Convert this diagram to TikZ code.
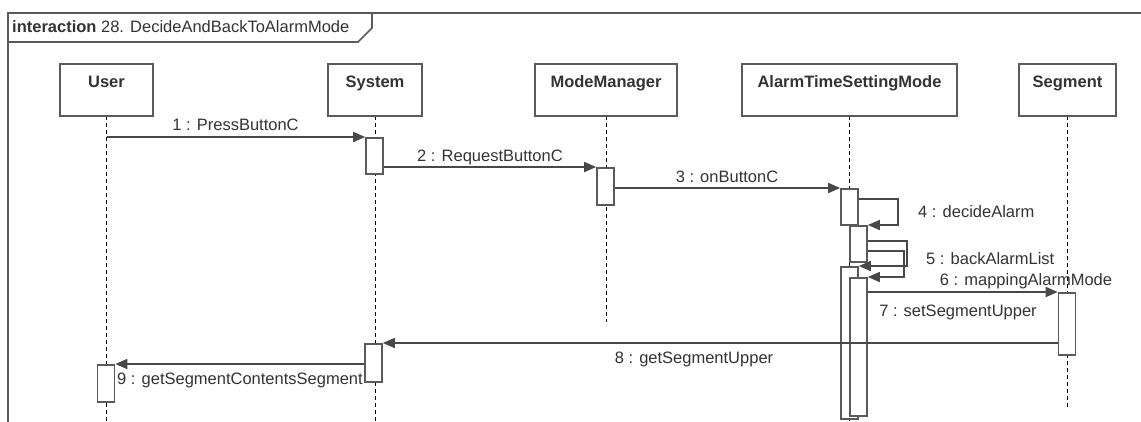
\documentclass[tikz,border=0pt]{standalone}
\usepackage{fontspec}
\setmainfont{Liberation Sans}
\usetikzlibrary{arrows.meta}
\definecolor{umlgray}{HTML}{5A5A5A}
\definecolor{umltext}{HTML}{333333}
\tikzset{
  head/.style={draw=umlgray,line width=2pt,fill=white,minimum height=52pt,inner sep=0pt},
  act/.style={draw=umlgray,line width=1.6pt,fill=white,minimum width=17pt,inner sep=0pt,anchor=north},
  life/.style={dash pattern=on 4pt off 3pt,line width=1pt},
  msg/.style={draw=umlgray!80!black,line width=1.5pt,-{Triangle[length=12pt,width=10pt]}},
  lbl/.style={text=umltext,font=\fontsize{16.5}{19}\selectfont,inner sep=0pt,anchor=base}
}
\begin{document}
\begin{tikzpicture}[x=1pt,y=-1pt]
\useasboundingbox (0,0) rectangle (1141,421);
\clip (0,0) rectangle (1141,421);
% frame
\draw[umlgray,line width=1.6pt] (8,430) -- (8,13) -- (1150,13);
\draw[umlgray,line width=1.6pt] (372,13) -- (372,28) -- (358,42) -- (8,42);
\node[lbl,anchor=base west] (title) at (12,32) {\textbf{interaction} 28. DecideAndBackToAlarmMode};
% lifelines
\foreach \n/\x/\w/\t/\l in {user/106.5/93/User/331,system/375/94/System/331,modemgr/606/142/ModeManager/232,atsm/849.5/215/AlarmTimeSettingMode/331,segment/1067.5/97/Segment/317}{
  \draw[life] (\x,116) -- ++(0,\l-26);
  \node[head,minimum width=\w pt] (\n) at (\x,90) {};
  \node[lbl,font=\bfseries\fontsize{16.5}{19}\selectfont] (\n-t) at (\x,87) {\t};
}
% activations
\foreach \n/\x/\y/\h in {sysa/374.5/137/36,mma/605.5/167/37,ata/849.5/188/36,atb/858.5/225/36,atc/849.5/266/152,atd/858.5/277/138,sega/1067/292/62,sysb/373.5/343/38,usera/106/364/37}
  \node[act,minimum height=\h pt] (\n) at (\x,\y) {};
% messages
\draw[msg] (user |- sysa.north) -- (sysa.north west);
\draw[msg] (sysa.east |- mma.north) -- (mma.north west);
\draw[msg] (mma.east |- ata.north) -- (ata.north west);
\draw[msg] ([yshift=-11pt]ata.north east) -- ++(39,0) |- (atb.north east);
\draw[msg] ([yshift=-16pt]atb.north east) -- ++(39,0) |- (atc.north east);
\draw[msg] ([yshift=-26pt]atb.north east) -- ++(36,0) |- (atd.north east);
\draw[msg] (atd.east |- sega.north) -- (sega.north west);
\draw[msg] (sega.west |- sysb.north) -- (sysb.north east);
\draw[msg] (sysb.west |- usera.north) -- (usera.north east);
% labels
\node[lbl] (m1) at (235.5,130) {1 : PressButtonC};
\node[lbl] (m2) at (490,161) {2 : RequestButtonC};
\node[lbl] (m3) at (727,182) {3 : onButtonC};
\node[lbl,anchor=base west] (m4) at (918,217) {4 : decideAlarm};
\node[lbl,anchor=base west] (m5) at (926,264) {5 : backAlarmList};
\node[lbl] (m6) at (1026,285) {6 : mappingAlarmMode};
\node[lbl] (m7) at (958,316) {7 : setSegmentUpper};
\node[lbl] (m8) at (694,363) {8 : getSegmentUpper};
\node[lbl,anchor=base west] (m9) at (117,384) {9 : getSegmentContentsSegment};
\end{tikzpicture}
\end{document}
